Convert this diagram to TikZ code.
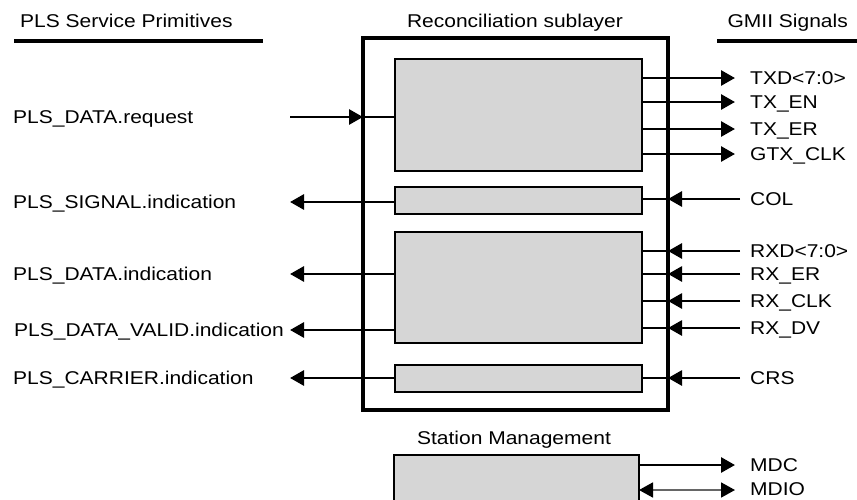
\documentclass[tikz,border=0pt]{standalone}
\usepackage{fontspec}
\setmainfont{Liberation Sans}[FakeStretch=1.135]
\usetikzlibrary{arrows.meta}
\begin{document}
\begin{tikzpicture}[x=1pt,y=-1pt,
  font=\fontsize{18.5}{20}\selectfont,
  lbl/.style={anchor=west,inner sep=0pt,text height=13.2pt,text depth=0pt},
  hdr/.style={inner sep=0pt,text height=13.2pt,text depth=0pt},
  outerbox/.style={draw,line width=3.2pt,inner sep=0pt,outer sep=0pt},
  ibox/.style={draw,line width=2.6pt,fill=black!16,inner sep=0pt,outer sep=0pt},
  sig/.style={line width=2.8pt},
  arr/.style={line width=2.8pt,-{Triangle[length=14pt,width=15pt]}},
  darr/.style={line width=1.8pt,draw=black!60,{Triangle[length=14pt,width=15pt,color=black]}-{Triangle[length=14pt,width=15pt,color=black]}},
  rule/.style={line width=3.3pt}]
\useasboundingbox (0,0) rectangle (857,499);

% headers
\node[hdr,anchor=west] (h1) at (20,21) {PLS Service Primitives};
\node[hdr] (h2) at (515,21) {Reconciliation sublayer};
\node[hdr,anchor=east] (h3) at (848,21) {GMII Signals};
\coordinate (r1a) at (14,41); \coordinate (r1b) at (263,41);
\coordinate (r3a) at (717,41); \coordinate (r3b) at (857,41);
\draw[rule] (r1a) -- (r1b);
\draw[rule] (r3a) -- (r3b);

% boxes
\node[outerbox,minimum width=305pt,minimum height=372pt] (rs) at (515.5,224) {};
\node[ibox,minimum width=247pt,minimum height=112pt] (b1) at (518.5,115) {};
\node[ibox,minimum width=247pt,minimum height=27pt] (b2) at (518.5,200.5) {};
\node[ibox,minimum width=247pt,minimum height=111pt] (b3) at (518.5,287.5) {};
\node[ibox,minimum width=247pt,minimum height=27pt] (b4) at (518.5,378.5) {};
\node[hdr] (smt) at (514,438) {Station Management};
\node[ibox,minimum width=245pt,minimum height=65pt] (sm) at (516.5,487.5) {};

% left side
\node[lbl] (l1) at (13,117) {PLS\_DATA.request};
\node[lbl] (l2) at (13,202) {PLS\_SIGNAL.indication};
\node[lbl] (l3) at (13,274) {PLS\_DATA.indication};
\node[lbl] (l4) at (14,330) {PLS\_DATA\_VALID.indication};
\node[lbl] (l5) at (13,378) {PLS\_CARRIER.indication};

\coordinate (s1) at (290,117); \coordinate (t1) at (rs.west |- s1);
\draw[arr] (s1) -- (t1);
\draw[sig] (t1) -- (b1.west |- s1);

\foreach \n/\y/\b in {2/202/b2,3/274/b3,4/330/b3,5/378/b4}{
  \coordinate (ls\n) at (290,\y);
  \coordinate (lm\n) at (rs.west |- ls\n);
  \draw[sig] (\b.west |- ls\n) -- (lm\n);
  \draw[arr] (lm\n) -- (ls\n);
}

% right side: outputs
\foreach \n/\y/\t in {1/78/{TXD<7:0>},2/102/{TX\_EN},3/129/{TX\_ER},4/154/{GTX\_CLK}}{
  \coordinate (ro\n) at (735,\y);
  \draw[arr] (b1.east |- ro\n) -- (ro\n);
  \node[lbl] (rol\n) at (750,\y) {\t};
}

% right side: inputs
\foreach \n/\y/\b/\t in {1/199/b2/COL,2/251/b3/{RXD<7:0>},3/274/b3/{RX\_ER},4/301/b3/{RX\_CLK},5/328/b3/{RX\_DV},6/378/b4/CRS}{
  \coordinate (ri\n) at (740,\y);
  \coordinate (rm\n) at (rs.east |- ri\n);
  \draw[arr] (ri\n) -- (rm\n);
  \draw[sig] (rm\n) -- (\b.east |- ri\n);
  \node[lbl] (ril\n) at (750,\y) {\t};
}

% station management
\coordinate (mdc) at (735,465);
\coordinate (mdio) at (735,490);
\draw[arr] (sm.east |- mdc) -- (mdc);
\draw[darr] (sm.east |- mdio) -- (mdio);
\node[lbl] (mdcl) at (750,465) {MDC};
\node[lbl] (mdiol) at (750,489) {MDIO};
\end{tikzpicture}
\end{document}
